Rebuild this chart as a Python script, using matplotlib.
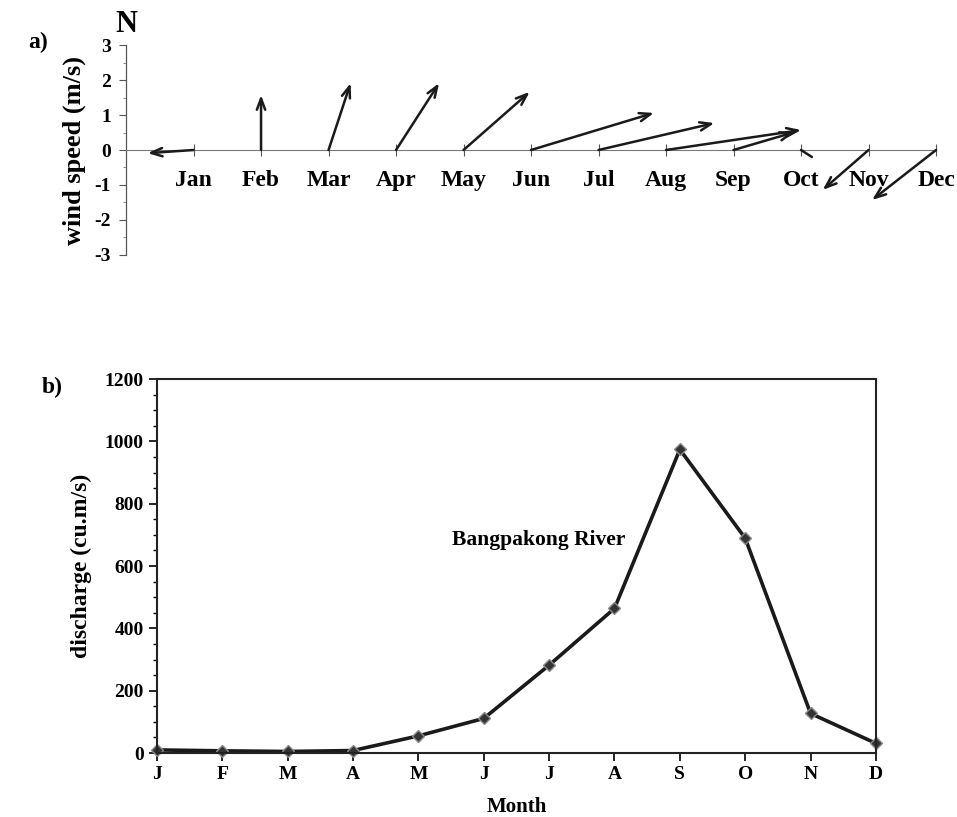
import matplotlib
matplotlib.use("Agg")
import matplotlib.pyplot as plt
import numpy as np
from matplotlib.ticker import MultipleLocator

plt.rcParams['font.family'] = ['Liberation Serif', 'DejaVu Serif']
plt.rcParams['font.weight'] = 'bold'
plt.rcParams['axes.unicode_minus'] = False

# monthly mean wind vectors (m/s), east and north components
wind_months = ["Jan", "Feb", "Mar", "Apr", "May", "Jun",
               "Jul", "Aug", "Sep", "Oct", "Nov", "Dec"]
wind_u = [-1.31, 0.0, 0.63, 1.23, 1.89, 3.51, 3.31, 3.86, 1.74, 0.31, -1.31, -1.83]
wind_v = [-0.09, 1.57, 1.91, 1.91, 1.66, 1.06, 0.77, 0.57, 0.51, -0.20, -1.14, -1.43]

# Bangpakong River monthly discharge (cu.m/s)
q_months = ["J", "F", "M", "A", "M", "J", "J", "A", "S", "O", "N", "D"]
discharge = [10, 7, 5, 8, 55, 111, 282, 464, 974, 689, 127, 31]

fig = plt.figure(figsize=(9.57, 8.17), dpi=100)

# ---- a) wind stick plot ----
ax1 = fig.add_axes([0.1317, 0.6879, 0.8464, 0.257])
ax1.set_xlim(0, 12)
ax1.set_ylim(-3, 3)
ax1.spines['top'].set_visible(False)
ax1.spines['right'].set_visible(False)
ax1.spines['bottom'].set_position(('data', 0))
ax1.spines['bottom'].set_color('#7a7a7a')
ax1.spines['left'].set_color('#555555')
ax1.spines['left'].set_linewidth(0.9)

pos = np.arange(1, 13)
ax1.set_xticks(pos)
ax1.set_xticklabels(wind_months, fontsize=17)
ax1.tick_params(axis='x', direction='inout', length=9, width=0.8, color='#555555', pad=10)
ax1.set_yticks(range(-3, 4))
ax1.yaxis.set_minor_locator(MultipleLocator(0.5))
ax1.tick_params(axis='y', which='major', direction='out', length=5, width=0.8,
                color='#555555', labelsize=14, pad=6)
ax1.tick_params(axis='y', which='minor', direction='out', length=2.5, width=0.6, color='#777777')
ax1.set_ylabel("wind speed (m/s)", fontsize=19, fontweight='bold')
ax1.yaxis.set_label_coords(-0.05, 0.5)

# pixels per m/s from the y scale, so arrows keep true direction
fig.canvas.draw()
px = ax1.transData.transform((0, 1))[1] - ax1.transData.transform((0, 0))[1]
for m, u, v in zip(pos, wind_u, wind_v):
    style = '-' if np.hypot(u, v) < 0.5 else '<-,head_length=0.8,head_width=0.3'
    ax1.annotate('', xy=(m, 0), xytext=(u * px, v * px), textcoords='offset pixels',
                 arrowprops=dict(arrowstyle=style, color='#1a1a1a', lw=1.8,
                                 shrinkA=0, shrinkB=0))

fig.text(126 / 957, 1 - 24 / 817, "N", fontsize=22, fontweight='bold', ha='center', va='center')
fig.text(28 / 957, 1 - 42 / 817, "a)", fontsize=17, fontweight='bold', ha='left', va='center')

# ---- b) river discharge ----
ax2 = fig.add_axes([0.164, 0.0783, 0.7513, 0.4578])
x = np.arange(len(discharge))
ax2.plot(x, discharge, color='#1a1a1a', lw=2.6, marker='D', markersize=6,
         markerfacecolor='#333333', markeredgecolor='#8a8a8a', markeredgewidth=1, clip_on=False)
ax2.set_xlim(0, 11)
ax2.set_ylim(0, 1200)
ax2.set_xticks(x)
ax2.set_xticklabels(q_months, fontsize=14)
ax2.set_yticks(range(0, 1201, 200))
ax2.yaxis.set_minor_locator(MultipleLocator(50))
ax2.tick_params(axis='both', which='major', direction='out', length=6, width=1.2, labelsize=14)
ax2.tick_params(axis='y', which='minor', direction='out', length=3, width=1.0)
for s in ax2.spines.values():
    s.set_linewidth(1.5)
    s.set_color('#222222')
ax2.set_xlabel("Month", fontsize=15, fontweight='bold', labelpad=10)
ax2.set_ylabel("discharge (cu.m/s)", fontsize=17, fontweight='bold')
ax2.yaxis.set_label_coords(-0.09, 0.5)
ax2.text(4.51, 683, "Bangpakong River", fontsize=15.5, fontweight='bold', ha='left', va='center')

fig.text(42 / 957, 1 - 387 / 817, "b)", fontsize=17, fontweight='bold', ha='left', va='center')

fig.savefig("out.png", dpi=100)
